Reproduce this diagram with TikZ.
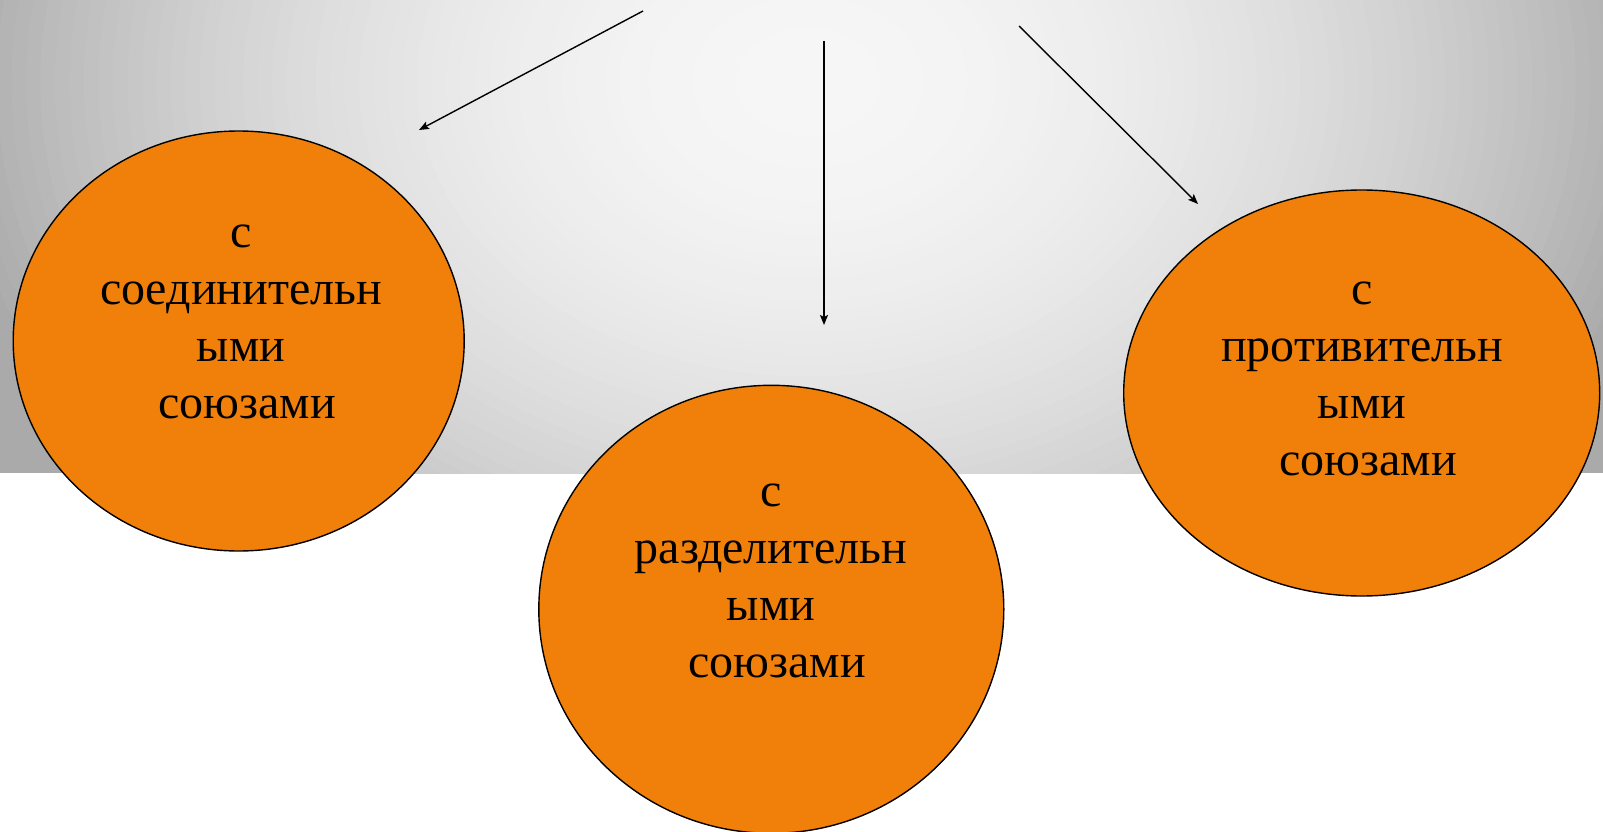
\documentclass[tikz,border=0pt]{standalone}
\usepackage{fontspec}
\setmainfont{Liberation Serif}
\usetikzlibrary{shapes.geometric,arrows.meta}
\definecolor{orng}{RGB}{240,128,10}
\definecolor{bgA}{RGB}{246,246,246}
\definecolor{bgE}{RGB}{170,170,170}
\begin{document}
\begin{tikzpicture}[x=1pt,y=-1pt,
  blob/.style={ellipse,draw=black,line width=1.4pt,fill=orng,inner sep=0pt},
  lbl/.style={anchor=base,inner sep=0pt,font=\fontsize{48}{57}\selectfont},
  arr/.style={-{Stealth[length=10pt,width=8pt,inset=2pt]},line width=1.4pt}]
\useasboundingbox (0,0) rectangle (1603,832);
\fill[white] (0,0) rectangle (1603,832);
\begin{scope}
  \clip (0,0) rectangle (1603,473);
  \fill[bgE] (0,0) rectangle (1603,473);
  \foreach \i in {0,...,59}{
    \pgfmathsetmacro\t{1-\i/60}
    \pgfmathsetmacro\p{100*(1-\t*\t)}
    \fill[bgA!\p!bgE] (808,82) ellipse [x radius={869*\t}, y radius={654*\t}];
  }
\end{scope}
% ellipses
\node[blob,minimum width=451pt,minimum height=420pt] (left) at (238.7,341) {};
\node[blob,minimum width=465pt,minimum height=448pt] (mid) at (771.3,609.3) {};
\node[blob,minimum width=476pt,minimum height=406pt] (right) at (1361.7,393) {};
% labels
\node[lbl] (tl) at (241,247) {\begin{tabular}[t]{@{}c@{}}с\\соединительн\\ыми\\\hspace{0.25em}союзами\end{tabular}};
\node[lbl] (tm) at (771,506) {\begin{tabular}[t]{@{}c@{}}с\\разделительн\\ыми\\\hspace{0.25em}союзами\end{tabular}};
\node[lbl] (tr) at (1362,304) {\begin{tabular}[t]{@{}c@{}}с\\противительн\\ыми\\\hspace{0.25em}союзами\end{tabular}};
% arrows
\coordinate (s1) at (643,11);
\coordinate (e1) at (419,130);
\coordinate (s2) at (824,41);
\coordinate (e2) at (824,325);
\coordinate (s3) at (1019,26);
\coordinate (e3) at (1198,204);
\draw[arr] (s1) -- (e1);
\draw[arr] (s2) -- (e2);
\draw[arr] (s3) -- (e3);
\end{tikzpicture}
\end{document}
